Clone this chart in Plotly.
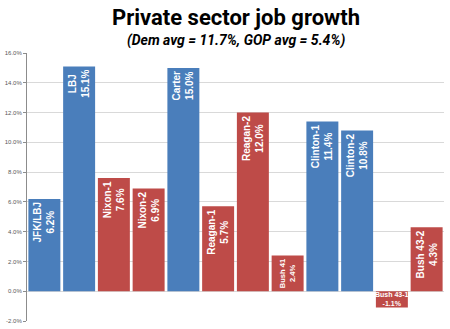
import plotly.graph_objects as go

# Private sector job growth by presidential term
terms = ["JFK/LBJ", "LBJ", "Nixon-1", "Nixon-2", "Carter", "Reagan-1",
         "Reagan-2", "Bush 41", "Clinton-1", "Clinton-2", "Bush 43-1", "Bush 43-2"]
growth = [6.2, 15.1, 7.6, 6.9, 15.0, 5.7, 12.0, 2.4, 11.4, 10.8, -1.1, 4.3]
party = ["D", "D", "R", "R", "D", "R", "R", "R", "D", "D", "R", "R"]

y_ticks = [-2, 0, 2, 4, 6, 8, 10, 12, 14, 16]

BLUE = "#4A7EBB"
RED = "#BE4B48"
colors = [BLUE if p == "D" else RED for p in party]

# Rotated labels inside bars; the negative bar gets a horizontal annotation instead
labels = [f"{t}<br>{v:.1f}%" if v > 0 else "" for t, v in zip(terms, growth)]

fig = go.Figure(go.Bar(
    x=terms,
    y=growth,
    marker=dict(color=colors, line=dict(width=0)),
    text=labels,
    textposition="inside",
    insidetextanchor="end",
    textangle=-90,
    insidetextfont=dict(family="Liberation Sans", size=10, color="white", weight="bold"),
    cliponaxis=False,
    hoverinfo="skip",
))

for t, v in zip(terms, growth):
    if v < 0:
        fig.add_annotation(
            x=t, y=v / 2, xref="x", yref="y",
            text=f"{t}<br>{v:.1f}%", showarrow=False,
            font=dict(family="Liberation Sans", size=7, color="white", weight="bold"),
        )

fig.add_annotation(
    x=0.5, y=1.0, xref="paper", yref="paper", xanchor="center", yanchor="bottom",
    yshift=21, text="<b>Private sector job growth</b>", showarrow=False,
    font=dict(family="Roboto", size=22, color="black", weight=900),
)
fig.add_annotation(
    x=0.5, y=1.0, xref="paper", yref="paper", xanchor="center", yanchor="bottom",
    yshift=2, text="<b><i>(Dem avg = 11.7%, GOP avg = 5.4%)</i></b>", showarrow=False,
    font=dict(family="Roboto", size=14, color="black"),
)

fig.update_layout(
    width=450, height=329,
    margin=dict(l=27, r=6, t=53, b=8),
    paper_bgcolor="white", plot_bgcolor="white",
    bargap=0.08,
    showlegend=False,
    xaxis=dict(showticklabels=False, showgrid=False, zeroline=False, showline=False,
               ticks=""),
    yaxis=dict(range=[-2, 16], tickvals=y_ticks,
               ticktext=[f"{v:.1f}%" for v in y_ticks],
               showgrid=True, gridcolor="#D9D9D9", gridwidth=1,
               zeroline=True, zerolinecolor="#D9D9D9", zerolinewidth=1,
               showline=True, linecolor="#8C8C8C", linewidth=1,
               ticks="outside", ticklen=3, tickcolor="#8C8C8C",
               tickfont=dict(family="Liberation Sans", size=6, color="#595959")),
)

fig.write_html("out.html")
